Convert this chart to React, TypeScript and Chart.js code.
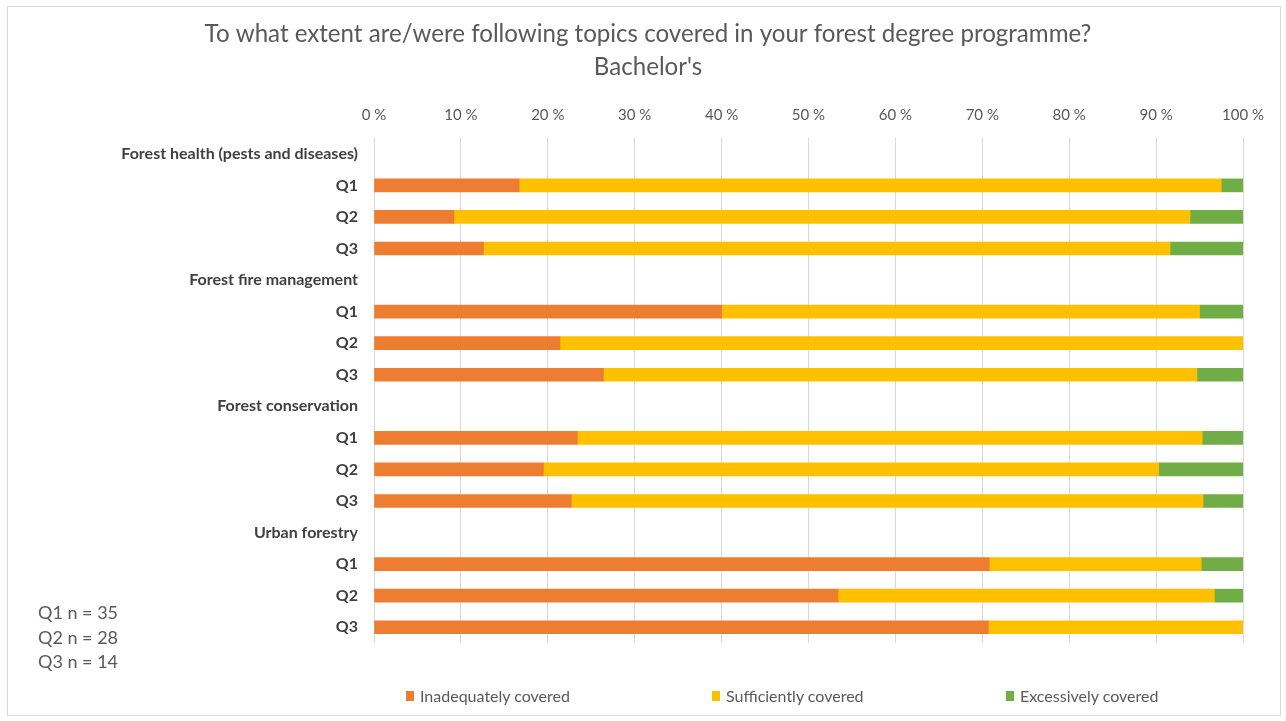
import React, { useEffect, useRef } from "react";
import { Chart, registerables } from "chart.js";

Chart.register(...registerables);

const titleLines = [
  "To what extent are/were following topics covered in your forest degree programme?",
  "Bachelor's",
];

const categories = [
  "Forest health (pests and diseases)",
  "Q1",
  "Q2",
  "Q3",
  "Forest fire management",
  "Q1",
  "Q2",
  "Q3",
  "Forest conservation",
  "Q1",
  "Q2",
  "Q3",
  "Urban forestry",
  "Q1",
  "Q2",
  "Q3",
];

const inadequatelyCovered = [null, 16.7, 9.2, 12.6, null, 40.0, 21.4, 26.4, null, 23.4, 19.5, 22.7, null, 70.8, 53.4, 70.7];
const sufficientlyCovered = [null, 80.8, 84.7, 79.0, null, 55.0, 78.6, 68.3, null, 71.9, 70.8, 72.7, null, 24.4, 43.3, 29.3];
const excessivelyCovered = [null, 2.5, 6.1, 8.4, null, 5.0, 0, 5.3, null, 4.7, 9.7, 4.6, null, 4.8, 3.3, 0];

const seriesNames = ["Inadequately covered", "Sufficiently covered", "Excessively covered"];
const seriesColors = ["#ED7D31", "#FFC000", "#70AD47"];

const axisMin = 0;
const axisMax = 100;
const axisStep = 10;

const sampleNotes = ["Q1 n = 35", "Q2 n = 28", "Q3 n = 14"];

const FONT = "Lato, 'Open Sans', sans-serif";
const legendLefts = [406, 712, 1006];

export default function App() {
  const canvasRef = useRef<HTMLCanvasElement | null>(null);

  useEffect(() => {
    const canvas = canvasRef.current;
    if (!canvas) return;
    const seriesData = [inadequatelyCovered, sufficientlyCovered, excessivelyCovered];
    const chart = new Chart(canvas, {
      type: "bar",
      data: {
        labels: categories,
        datasets: seriesNames.map((name, i) => ({
          label: name,
          data: seriesData[i],
          backgroundColor: seriesColors[i],
          borderWidth: 0,
          barThickness: 13,
        })),
      },
      options: {
        animation: false,
        responsive: false,
        indexAxis: "y",
        layout: { padding: { left: 0, right: 43, top: 0, bottom: 78 } },
        plugins: {
          legend: { display: false },
          tooltip: { enabled: false },
          title: {
            display: true,
            text: titleLines,
            color: "#595959",
            font: { family: FONT, size: 24.1, weight: "normal", lineHeight: 1.37 },
            padding: { top: 17.5, bottom: 0 },
          },
        },
        scales: {
          x: {
            type: "linear",
            position: "top",
            stacked: true,
            min: axisMin,
            max: axisMax,
            afterFit: (scale: any) => {
              scale.height = 54.5;
            },
            ticks: {
              stepSize: axisStep,
              color: "#595959",
              padding: 14,
              font: { family: FONT, size: 15 },
              callback: (v: any) => `${v} %`,
            },
            grid: { color: "#D9D9D9", lineWidth: 1, drawTicks: false },
            border: { display: false },
          },
          y: {
            stacked: true,
            afterFit: (scale: any) => {
              scale.width = 321;
            },
            ticks: {
              color: "#404040",
              padding: 16,
              autoSkip: false,
              font: { family: FONT, size: 16, weight: "bold" },
            },
            grid: { display: false, drawTicks: false },
            border: { display: false },
          },
        },
      },
    });
    return () => chart.destroy();
  }, []);

  return (
    <div style={{ position: "fixed", left: 0, top: 0, width: 1286, height: 721, background: "#fff", fontFamily: FONT }}>
      <div
        style={{
          position: "absolute",
          left: 7,
          top: 6,
          width: 1274,
          height: 710,
          border: "1px solid #D9D9D9",
          boxSizing: "border-box",
        }}
      />
      <canvas ref={canvasRef} width={1233} height={721} style={{ position: "absolute", left: 53, top: 0 }} />
      <div
        style={{
          position: "absolute",
          left: 38,
          top: 600,
          color: "#595959",
          fontSize: 18,
          lineHeight: "24.5px",
        }}
      >
        {sampleNotes.map((t) => (
          <div key={t}>{t}</div>
        ))}
      </div>
      {seriesNames.map((name, i) => (
        <div
          key={name}
          style={{
            position: "absolute",
            left: legendLefts[i],
            top: 685,
            display: "flex",
            alignItems: "center",
            color: "#595959",
            fontSize: 16,
            lineHeight: "22px",
            whiteSpace: "nowrap",
          }}
        >
          <span style={{ display: "inline-block", width: 8, height: 10, background: seriesColors[i], marginRight: 6 }} />
          <span>{name}</span>
        </div>
      ))}
    </div>
  );
}
